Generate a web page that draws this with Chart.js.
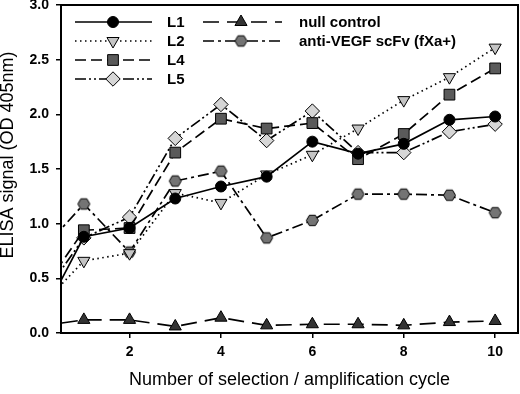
<!DOCTYPE html>
<html><head><meta charset="utf-8">
<script src="https://cdn.jsdelivr.net/npm/chart.js@4/dist/chart.umd.min.js"></script>
<style>html,body{margin:0;padding:0;background:#fff;overflow:hidden;}canvas{display:block;}</style>
</head><body><canvas id="c" width="520" height="394"></canvas>
<script>
// ---- data ----
const cycles = [0,1,2,3,4,5,6,7,8,9,10];
const L1 = [0.08,0.88,0.96,1.23,1.34,1.43,1.75,1.64,1.73,1.95,1.98];
const L2 = [0.22,0.66,0.73,1.28,1.19,1.45,1.63,1.87,2.13,2.34,2.61];
const L4 = [0.33,0.94,0.96,1.65,1.96,1.87,1.92,1.59,1.82,2.18,2.42];
const L5 = [0.28,0.87,1.06,1.78,2.09,1.76,2.03,1.65,1.65,1.84,1.91];
const nullControl = [0.06,0.12,0.12,0.06,0.14,0.07,0.08,0.08,0.07,0.10,0.11];
const antiVEGF = [0.72,1.18,0.74,1.39,1.48,0.87,1.03,1.27,1.27,1.26,1.10];
const seriesNames = ['L1','L2','L4','L5','null control','anti-VEGF scFv (fXa+)'];
const xTicks = [2,4,6,8,10];
const yTicks = [0,0.5,1,1.5,2,2.5,3];
const xTitle = 'Number of selection / amplification cycle';
const yTitle = 'ELISA signal (OD 405nm)';

const FONT = '"Liberation Sans", Arial, sans-serif';

function makeHex(r, fill) {
  const s = Math.ceil(r * 2 + 3);
  const c = document.createElement('canvas');
  c.width = s; c.height = s;
  const g = c.getContext('2d');
  g.beginPath();
  for (let i = 0; i < 6; i++) {
    const a = Math.PI / 3 * i;
    const px = s / 2 + r * Math.cos(a), py = s / 2 + r * Math.sin(a);
    if (i === 0) g.moveTo(px, py); else g.lineTo(px, py);
  }
  g.closePath();
  g.fillStyle = fill; g.fill();
  g.lineWidth = 1; g.strokeStyle = '#000'; g.stroke();
  return c;
}
const hexImg = makeHex(6, '#747474');

function mk(label, values, style) {
  return Object.assign({
    label: label,
    data: cycles.map((c, i) => ({x: c, y: values[i]})),
    borderColor: '#000',
    borderWidth: 1.7,
    pointBorderColor: '#000',
    pointBorderWidth: 1,
    pointHoverRadius: 0,
    tension: 0,
    fill: false,
    clip: {left: 0, right: 10, top: 10, bottom: 10},
    pointRadius: cycles.map(c => c < 1 ? 0 : style.r)
  }, style);
}

const datasets = [
  mk(seriesNames[0], L1, {r: 5.5, pointStyle: 'circle', pointBackgroundColor: '#000', borderDash: []}),
  mk(seriesNames[1], L2, {r: 7, pointStyle: 'triangle', pointRotation: 180, pointBackgroundColor: '#c4c4c4', borderDash: [1.5, 3.5]}),
  mk(seriesNames[2], L4, {r: 7.6, pointStyle: 'rect', pointBackgroundColor: '#5a5a5a', borderDash: [11, 5]}),
  mk(seriesNames[3], L5, {r: 7.2, pointStyle: 'rectRot', pointBackgroundColor: '#d6d6d6', borderDash: [11, 3, 2, 3, 2, 3]}),
  mk(seriesNames[4], nullControl, {r: 7, pointStyle: 'triangle', pointBackgroundColor: '#333333', borderDash: [16, 8]}),
  mk(seriesNames[5], antiVEGF, {r: 6, pointStyle: hexImg, pointBackgroundColor: '#747474', borderDash: [11, 4, 3, 4]})
];

const framePlugin = {
  id: 'frame',
  afterDraw(chart) {
    const {ctx, chartArea: a} = chart;
    ctx.save();
    ctx.strokeStyle = '#000';
    ctx.lineWidth = 2;
    ctx.setLineDash([]);
    ctx.strokeRect(a.left, a.top, a.right - a.left, a.bottom - a.top);
    // y-axis title
    ctx.translate(8, 155);
    ctx.rotate(-Math.PI / 2);
    ctx.font = '18px ' + FONT;
    ctx.fillStyle = '#000';
    ctx.textAlign = 'center';
    ctx.textBaseline = 'middle';
    ctx.fillText(yTitle, 0, 0);
    ctx.restore();
  }
};

const legendPlugin = {
  id: 'customLegend',
  afterDraw(chart) {
    const ctx = chart.ctx;
    const cols = [{x0: 75, x1: 152, xm: 113, xt: 167}, {x0: 203, x1: 282, xm: 241, xt: 299}];
    const rows = [22, 41, 60, 79];
    const place = [[0,0],[0,1],[0,2],[0,3],[1,0],[1,1]];
    chart.data.datasets.forEach((ds, i) => {
      const col = cols[place[i][0]], y = rows[place[i][1]];
      ctx.save();
      ctx.strokeStyle = ds.borderColor;
      ctx.lineWidth = ds.borderWidth;
      ctx.setLineDash(ds.borderDash || []);
      ctx.beginPath();
      ctx.moveTo(col.x0, y); ctx.lineTo(col.x1, y);
      ctx.stroke();
      ctx.setLineDash([]);
      ctx.fillStyle = ds.pointBackgroundColor;
      ctx.strokeStyle = ds.pointBorderColor;
      ctx.lineWidth = ds.pointBorderWidth;
      Chart.helpers.drawPoint(ctx, {
        pointStyle: ds.pointStyle,
        rotation: ds.pointRotation || 0,
        radius: ds.r,
        borderWidth: ds.pointBorderWidth
      }, col.xm, y);
      ctx.fillStyle = '#000';
      ctx.font = 'bold 15px ' + FONT;
      ctx.textAlign = 'left';
      ctx.textBaseline = 'middle';
      ctx.fillText(ds.label, col.xt, y + 1);
      ctx.restore();
    });
  }
};

new Chart(document.getElementById('c'), {
  type: 'line',
  data: {datasets: datasets},
  options: {
    responsive: false,
    animation: false,
    events: [],
    devicePixelRatio: 1,
    layout: {autoPadding: false, padding: {top: 5, right: 2, left: 0, bottom: 0}},
    plugins: {legend: {display: false}, tooltip: {enabled: false}},
    scales: {
      x: {
        type: 'linear',
        min: 0.5, max: 10.5,
        afterBuildTicks: s => { s.ticks = xTicks.map(v => ({value: v})); },
        afterFit: s => { s.height = 61; s.paddingLeft = 0; s.paddingRight = 0; },
        grid: {drawOnChartArea: false, drawTicks: true, tickLength: 5, color: '#000', lineWidth: 1.5},
        border: {display: true, color: '#000', width: 2},
        ticks: {color: '#000', padding: 6, font: {family: FONT, size: 14, weight: 'bold'}, maxRotation: 0,
          callback: v => String(v)},
        title: {display: true, text: xTitle, color: '#000', font: {family: FONT, size: 18}, padding: {top: 0, bottom: 3}}
      },
      y: {
        type: 'linear',
        min: 0, max: 3,
        afterBuildTicks: s => { s.ticks = yTicks.map(v => ({value: v})); },
        afterFit: s => { s.width = 61; s.paddingTop = 0; s.paddingBottom = 0; },
        grid: {drawOnChartArea: false, drawTicks: true, tickLength: 5, color: '#000', lineWidth: 1.5},
        border: {display: true, color: '#000', width: 2},
        ticks: {color: '#000', padding: 7, font: {family: FONT, size: 14, weight: 'bold'},
          callback: v => Number(v).toFixed(1)}
      }
    }
  },
  plugins: [framePlugin, legendPlugin]
});
</script></body></html>
